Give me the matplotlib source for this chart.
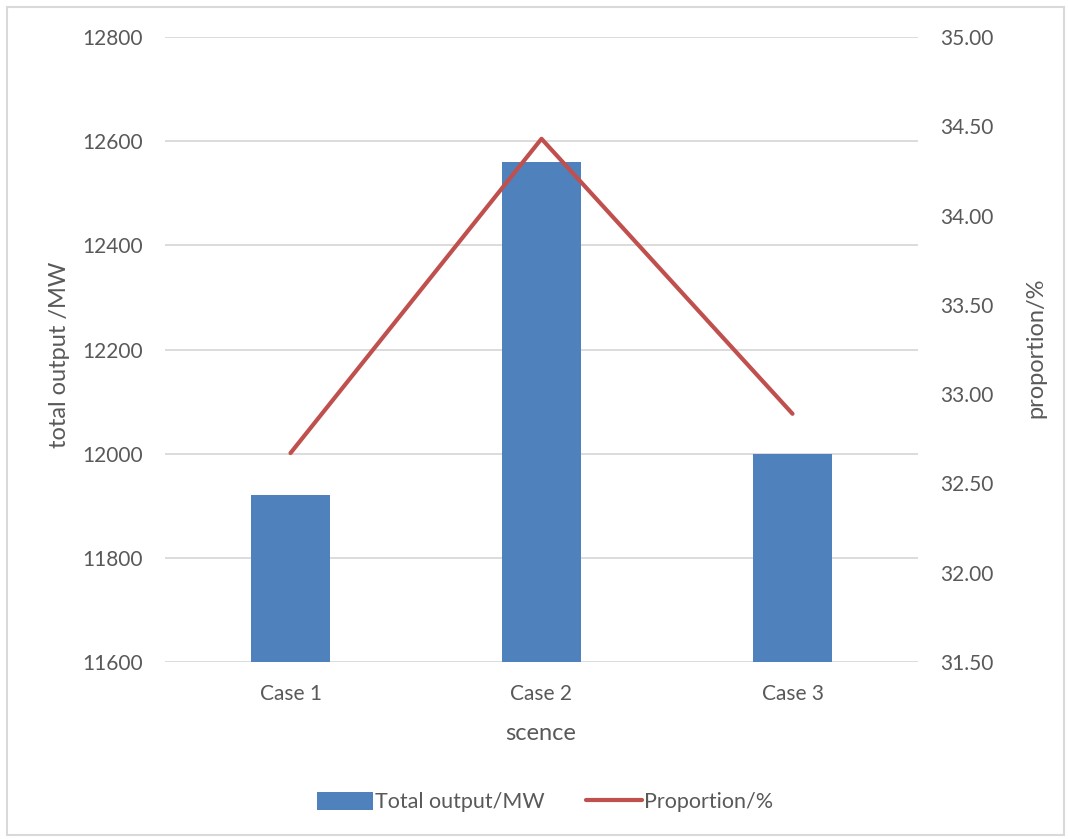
import matplotlib
matplotlib.use("Agg")
import matplotlib.pyplot as plt
from matplotlib.patches import Rectangle

categories = ["Case 1", "Case 2", "Case 3"]
total_output = [11920, 12560, 12000]
proportion = [32.67, 34.43, 32.89]
left_ticks = [11600, 11800, 12000, 12200, 12400, 12600, 12800]
right_ticks = [31.5, 32.0, 32.5, 33.0, 33.5, 34.0, 34.5, 35.0]

plt.rcParams['font.family'] = ['Lato', 'DejaVu Sans']
TXT = '#595959'
BAR = '#4F81BD'
LINE = '#C0504D'
GRID = '#D9D9D9'

W, H = 1068, 839
fig = plt.figure(figsize=(W/100, H/100), dpi=100)
ax = fig.add_axes([165/W, 1-662/H, (918-165)/W, (662-37)/H])
x = list(range(len(categories)))
ax.bar(x, total_output, width=0.315, color=BAR, zorder=2, label='Total output/MW')
ax.set_ylim(11600, 12800)
ax.set_yticks(left_ticks)
ax.set_xlim(-0.5, 2.5)
ax.set_xticks(x)
ax.set_xticklabels(categories)
ax.grid(axis='y', color=GRID, linewidth=1.3, zorder=0)
ax.set_axisbelow(True)
for s in ax.spines.values():
    s.set_visible(False)
ax.tick_params(axis='both', length=0, labelsize=15, labelcolor=TXT)
ax.tick_params(axis='y', pad=16)
ax.tick_params(axis='x', pad=16)

ax2 = ax.twinx()
ax2.plot(x, proportion, color=LINE, linewidth=3, zorder=3, label='Proportion/%',
         solid_capstyle='round')
ax2.set_ylim(31.5, 35.0)
ax2.set_yticks(right_ticks)
ax2.set_yticklabels([f"{v:.2f}" for v in right_ticks])
for s in ax2.spines.values():
    s.set_visible(False)
ax2.tick_params(axis='y', length=0, labelsize=15, labelcolor=TXT, pad=16)

fig.text(60/W, 1-355/H, 'total output /MW', rotation=90, ha='center', va='center',
         fontsize=17, color=TXT)
fig.text(1036/W, 1-348/H, 'proportion/%', rotation=90, ha='center', va='center',
         fontsize=17, color=TXT)
fig.text(541/W, 1-733/H, 'scence', ha='center', va='center', fontsize=17, color=TXT)

h1, l1 = ax.get_legend_handles_labels()
h2, l2 = ax2.get_legend_handles_labels()
fig.legend(h1 + h2, l1 + l2, loc='center', bbox_to_anchor=(545/W, 1-802/H), ncol=2,
           frameon=False, fontsize=15.5, labelcolor=TXT, handlelength=2.6,
           handletextpad=0.1, columnspacing=1.9, handleheight=0.95)

fig.patches.append(Rectangle((7/W, 4/H), (1064-7)/W, (832-4)/H, transform=fig.transFigure,
                             fill=False, edgecolor=GRID, linewidth=1.5))

fig.savefig('out.png', dpi=100)
